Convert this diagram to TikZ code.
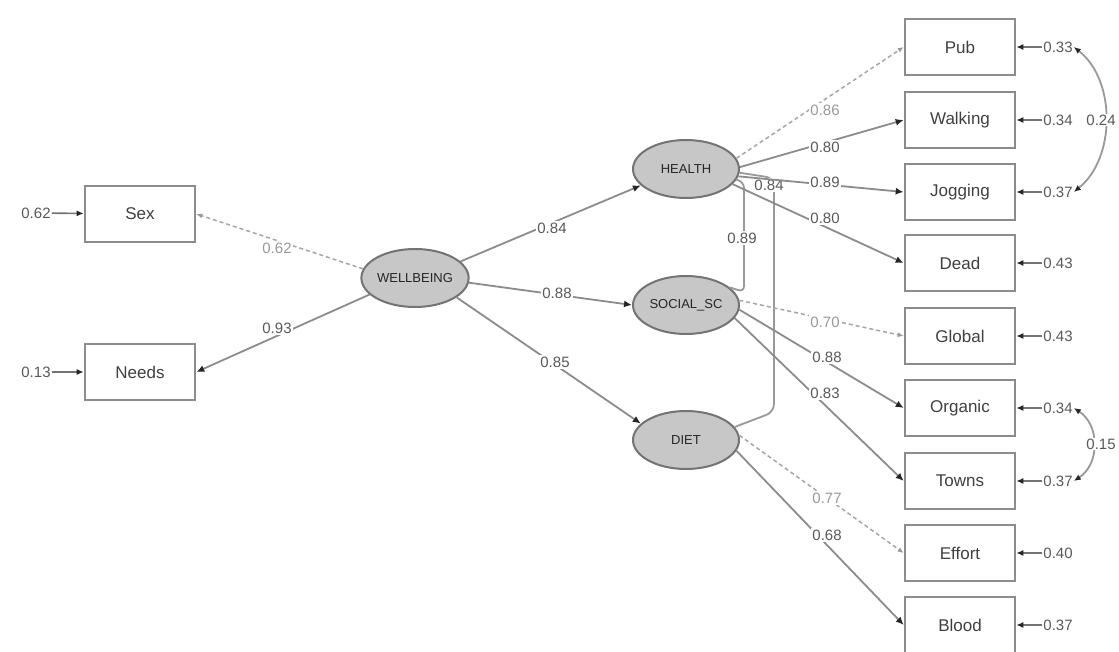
\documentclass[tikz,border=0pt]{standalone}
\usepackage{fontspec}
\setmainfont{Liberation Sans}
\usetikzlibrary{shapes.geometric,arrows.meta}
\begin{document}
\begin{tikzpicture}[x=1pt,y=-1pt,
  obs/.style={draw=black!45,line width=2.6pt,fill=white,minimum width=110pt,minimum height=56pt,inner sep=0pt,font=\fontsize{17}{17}\selectfont,text=black!75},
  lat/.style={ellipse,draw=black!55,line width=2pt,fill=black!22,minimum width=106pt,minimum height=58pt,inner sep=0pt,font=\fontsize{13}{13}\selectfont,text=black!85},
  lab/.style={fill=white,inner sep=1.5pt,font=\fontsize{15}{15}\selectfont,text=black!65},
  lablight/.style={fill=white,inner sep=1.5pt,font=\fontsize{15}{15}\selectfont,text=black!40},
  elab/.style={inner sep=1pt,font=\fontsize{15}{15}\selectfont,text=black!65},
  strong/.style={draw=black!45,line width=1.8pt,-{Latex[length=8pt,width=7pt,color=black!85]}},
  fixed/.style={draw=black!35,dashed,dash pattern=on 4pt off 3pt,line width=1.5pt,-{Latex[length=6pt,width=5pt,color=black!40]}},
  errarr/.style={draw=black!55,line width=1.6pt,-{Latex[length=7pt,width=6pt,color=black!85]}},
  cov/.style={draw=black!40,line width=1.8pt},
  covarr/.style={draw=black!40,line width=1.8pt,{Latex[length=7pt,width=6pt,color=black!85]}-{Latex[length=7pt,width=6pt,color=black!85]}}]
\useasboundingbox (0,0) rectangle (1119,652);
\clip (0,0) rectangle (1119,652);
\fill[white] (0,0) rectangle (1119,652);

% latent variables
\node[lat] (wb) at (415,278) {WELLBEING};
\node[lat] (he) at (686,169) {HEALTH};
\node[lat] (so) at (686,305) {SOCIAL\_SC};
\node[lat] (di) at (686,440) {DIET};

% observed, left
\node[obs] (sex) at (140,214) {Sex};
\node[obs] (nee) at (140,372) {Needs};

% observed, right
\node[obs] (pub)  at (960,47)  {Pub};
\node[obs] (walk) at (960,120) {Walking};
\node[obs] (jog)  at (960,192) {Jogging};
\node[obs] (dead) at (960,263) {Dead};
\node[obs] (glob) at (960,336) {Global};
\node[obs] (org)  at (960,408) {Organic};
\node[obs] (town) at (960,481) {Towns};
\node[obs] (eff)  at (960,553) {Effort};
\node[obs] (blo)  at (960,625) {Blood};

% error terms, left
\node[elab] (esex) at (36,213) {0.62};
\node[elab] (enee) at (36,372) {0.13};
\draw[errarr] (esex) -- (sex);
\draw[errarr] (enee) -- (nee);

% error terms, right
\node[elab] (e1) at (1058,47)  {0.33};
\node[elab] (e2) at (1058,120) {0.34};
\node[elab] (e3) at (1058,192) {0.37};
\node[elab] (e4) at (1058,263) {0.43};
\node[elab] (e5) at (1058,336) {0.43};
\node[elab] (e6) at (1058,408) {0.34};
\node[elab] (e7) at (1058,481) {0.37};
\node[elab] (e8) at (1058,553) {0.40};
\node[elab] (e9) at (1058,625) {0.37};
\foreach \e/\b in {e1/pub,e2/walk,e3/jog,e4/dead,e5/glob,e6/org,e7/town,e8/eff,e9/blo}
  \draw[errarr] (\e) -- (\b);

% residual covariances
\draw[covarr] (e1.east) .. controls (1116,80) and (1116,158) .. (e3.east);
\node[lab,inner sep=0.5pt] (c13) at (1101,120) {0.24};
\draw[covarr] (e6.east) .. controls (1100,425) and (1100,464) .. (e7.east);
\node[lab,inner sep=0.5pt] (c67) at (1101,444) {0.15};

% structural paths
\draw[fixed]  (wb.170) -- (sex.east);
\draw[strong] (wb.200) -- (nee.east);
\draw[strong] (wb.20)  -- (he.200);
\draw[strong] (wb.-5)  -- (so.west);
\draw[strong] (wb.-25) -- (di.160);
\node[lablight] at (277,248) {0.62};
\node[lab] at (277,328) {0.93};
\node[lab] at (552,228) {0.84};
\node[lab] at (557,293) {0.88};
\node[lab] at (555,362) {0.85};

% latent covariances
\draw[cov,rounded corners=6pt] (he.-12) -- (744,182) -- (744,292) -- (so.22);
\draw[cov,rounded corners=8pt] (he.-4) -- (774,178) -- (774,412) -- (di.15);
\node[lab] at (742,238) {0.89};
\node[lab] at (769,185) {0.84};

% measurement paths
\draw[fixed]  (he.12)  -- (pub.west);
\draw[strong] (he.2)   -- (walk.west);
\draw[strong] (he.-8)  -- (jog.west);
\draw[strong] (he.-18) -- (dead.west);
\draw[fixed]  (so.5)   -- (glob.west);
\draw[strong] (so.-5)  -- (org.west);
\draw[strong] (so.-15) -- (town.west);
\draw[fixed]  (di.5)   -- (eff.west);
\draw[strong] (di.-12) -- (blo.west);
\node[lablight] at (825,110) {0.86};
\node[lab] at (825,147) {0.80};
\node[lab] at (825,182) {0.89};
\node[lab] at (825,218) {0.80};
\node[lablight] at (825,322) {0.70};
\node[lab] at (827,357) {0.88};
\node[lab] at (825,393) {0.83};
\node[lablight] at (827,498) {0.77};
\node[lab] at (827,535) {0.68};
\end{tikzpicture}
\end{document}
